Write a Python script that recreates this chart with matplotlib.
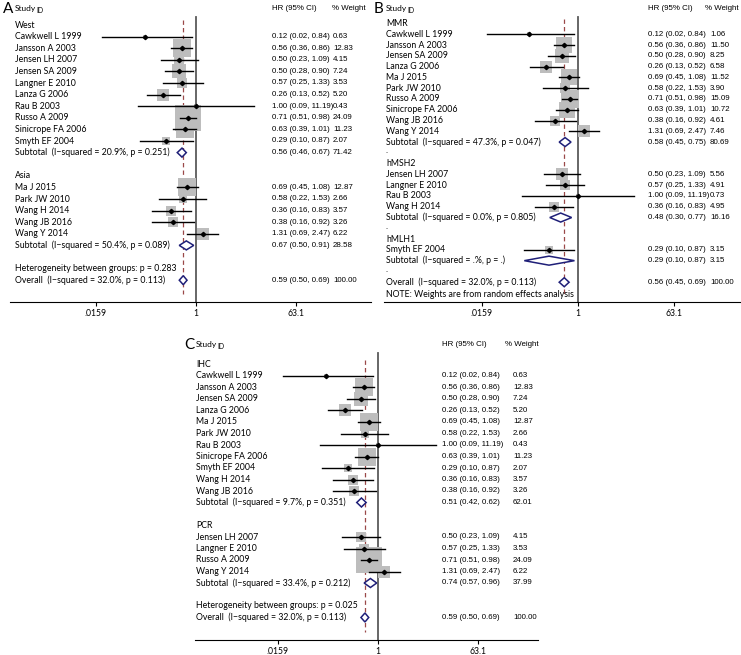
import numpy as np
import matplotlib
matplotlib.use("Agg")
import matplotlib.pyplot as plt
from matplotlib import font_manager
from matplotlib.patches import Polygon

plt.rcParams["font.family"] = ["Lato", "DejaVu Sans"]

W, H = 741, 655

# ---------------- data ----------------
study_names = ["Cawkwell L 1999", "Jansson A 2003", "Jensen LH 2007", "Jensen SA 2009",
               "Langner E 2010", "Lanza G 2006", "Rau B 2003", "Russo A 2009",
               "Sinicrope FA 2006", "Smyth EF 2004", "Ma J 2015", "Park JW 2010",
               "Wang H 2014", "Wang JB 2016", "Wang Y 2014"]
study_hr = [0.12, 0.56, 0.50, 0.50, 0.57, 0.26, 1.00, 0.71, 0.63, 0.29, 0.69, 0.58, 0.36, 0.38, 1.31]
study_lo = [0.02, 0.36, 0.23, 0.28, 0.25, 0.13, 0.09, 0.51, 0.39, 0.10, 0.45, 0.22, 0.16, 0.16, 0.69]
study_hi = [0.84, 0.86, 1.09, 0.90, 1.33, 0.52, 11.19, 0.98, 1.01, 0.87, 1.08, 1.53, 0.83, 0.92, 2.47]
weight_fixed = [0.63, 12.83, 4.15, 7.24, 3.53, 5.20, 0.43, 24.09, 11.23, 2.07, 12.87, 2.66, 3.57, 3.26, 6.22]
weight_random = [1.06, 11.50, 5.56, 8.25, 4.91, 6.58, 0.73, 15.09, 10.72, 3.15, 11.52, 3.90, 4.95, 4.61, 7.46]

# panel A: region
a_groups = ["West", "Asia"]
a_members = [["Cawkwell L 1999", "Jansson A 2003", "Jensen LH 2007", "Jensen SA 2009",
              "Langner E 2010", "Lanza G 2006", "Rau B 2003", "Russo A 2009",
              "Sinicrope FA 2006", "Smyth EF 2004"],
             ["Ma J 2015", "Park JW 2010", "Wang H 2014", "Wang JB 2016", "Wang Y 2014"]]
a_sub_hr = [0.56, 0.67]
a_sub_lo = [0.46, 0.50]
a_sub_hi = [0.67, 0.91]
a_sub_wt = [71.42, 28.58]
a_sub_i2 = [20.9, 50.4]
a_sub_p = [0.251, 0.089]
a_between_p = 0.283

# panel B: marker
b_groups = ["MMR", "hMSH2", "hMLH1"]
b_members = [["Cawkwell L 1999", "Jansson A 2003", "Jensen SA 2009", "Lanza G 2006",
              "Ma J 2015", "Park JW 2010", "Russo A 2009", "Sinicrope FA 2006",
              "Wang JB 2016", "Wang Y 2014"],
             ["Jensen LH 2007", "Langner E 2010", "Rau B 2003", "Wang H 2014"],
             ["Smyth EF 2004"]]
b_sub_hr = [0.58, 0.48, 0.29]
b_sub_lo = [0.45, 0.30, 0.10]
b_sub_hi = [0.75, 0.77, 0.87]
b_sub_wt = [80.69, 16.16, 3.15]
b_sub_i2 = [47.3, 0.0, None]
b_sub_p = [0.047, 0.805, None]

# panel C: method
c_groups = ["IHC", "PCR"]
c_members = [["Cawkwell L 1999", "Jansson A 2003", "Jensen SA 2009", "Lanza G 2006",
              "Ma J 2015", "Park JW 2010", "Rau B 2003", "Sinicrope FA 2006",
              "Smyth EF 2004", "Wang H 2014", "Wang JB 2016"],
             ["Jensen LH 2007", "Langner E 2010", "Russo A 2009", "Wang Y 2014"]]
c_sub_hr = [0.51, 0.74]
c_sub_lo = [0.42, 0.57]
c_sub_hi = [0.62, 0.96]
c_sub_wt = [62.01, 37.99]
c_sub_i2 = [9.7, 33.4]
c_sub_p = [0.351, 0.212]
c_between_p = 0.025

overall_hr = [0.59, 0.56, 0.59]
overall_lo = [0.50, 0.45, 0.50]
overall_hi = [0.69, 0.69, 0.69]
overall_i2 = 32.0
overall_p = 0.113

tick_vals = [0.0159, 1, 63.1]
tick_labels = [".0159", "1", "63.1"]

FS = 6.3
BOX = "#bdbdbd"
NAVY = "#1f1f78"
DASH = "#9a4848"

# narrow font for the number columns, if available
try:
    font_manager.findfont("Liberation Sans Narrow", fallback_to_default=False)
    NUM = dict(family=["Liberation Sans Narrow", "DejaVu Sans"], fontsize=6.6)
except ValueError:
    NUM = dict(family=["Liberation Sans", "DejaVu Sans"], fontsize=5.7)


def fmt_ci(hr, lo, hi):
    return f"{hr:.2f} ({lo:.2f}, {hi:.2f})"


def fmt_sub(i2, p):
    if i2 is None:
        return "Subtotal  (I\u2212squared = .%, p = .)"
    return f"Subtotal  (I\u2212squared = {i2:.1f}%, p = {p:.3f})"


def draw_panel(letter, box_px, one_px, ppu, y0, dy, axis_y, top, col_x, header_y,
               groups, members, weights, sub_hr, sub_lo, sub_hi, sub_wt, sub_i2, sub_p,
               ov, gap, between_p=None, note=None, k=5.2):
    x0, x1 = box_px
    ax = fig.add_axes([x0 / W, 1 - axis_y / H, (x1 - x0) / W, (axis_y - top) / H])
    ax.set_xlim((x0 - one_px) / ppu, (x1 - one_px) / ppu)
    ax.set_ylim((axis_y - y0) / dy, (top - y0) / dy)
    xd = lambda px: (px - one_px) / ppu
    yd = lambda px: (px - y0) / dy
    name_x, hr_x, wt_x, wth_x = [xd(v) for v in col_x]

    for s in ["top", "left", "right"]:
        ax.spines[s].set_visible(False)
    ax.spines["bottom"].set_linewidth(0.8)
    ax.set_yticks([])
    ax.set_xticks(np.log(tick_vals))
    ax.set_xticklabels(tick_labels, fontsize=6.2)
    ax.tick_params(axis="x", length=3, width=0.8, pad=2)
    ax.patch.set_alpha(0)

    # header
    hy = yd(header_y)
    ax.text(xd(col_x[0] - 12), hy, letter, fontsize=11, va="center", ha="left")
    ax.text(name_x, hy, "Study", fontsize=FS - 0.3, va="center")
    ax.text(name_x + 21 / ppu, hy + 1.2 / dy, "ID", fontsize=FS - 1.3, va="center")
    ax.text(hr_x, hy, "HR (95% CI)", va="center", **NUM)
    ax.text(wth_x, hy, "% Weight", va="center", **NUM)

    row = 0
    dh = 9 / dy / 2
    for g, grp in enumerate(groups):
        ax.text(name_x, row, grp, fontsize=FS, va="center")
        row += 1
        for nm in members[g]:
            i = study_names.index(nm)
            hr, lo, hi, w = study_hr[i], study_lo[i], study_hi[i], weights[i]
            side = k * np.sqrt(w) * 0.72
            ax.scatter([np.log(hr)], [row], s=side ** 2, marker="s", color=BOX,
                       linewidths=0, zorder=2)
            ax.plot([np.log(lo), np.log(hi)], [row, row], color="black", lw=1.0, zorder=3)
            ax.plot([np.log(hr)], [row], marker="D", ms=2.2, color="black", zorder=4)
            ax.text(name_x, row, nm, fontsize=FS, va="center")
            ax.text(hr_x, row, fmt_ci(hr, lo, hi), va="center", **NUM)
            ax.text(wt_x, row, f"{w:.2f}", va="center", **NUM)
            row += 1
        poly = Polygon([(np.log(sub_lo[g]), row), (np.log(sub_hr[g]), row - dh),
                        (np.log(sub_hi[g]), row), (np.log(sub_hr[g]), row + dh)],
                       closed=True, facecolor="white", edgecolor=NAVY, lw=1.1, zorder=5)
        ax.add_patch(poly)
        ax.text(name_x, row, fmt_sub(sub_i2[g], sub_p[g]), fontsize=FS, va="center")
        ax.text(hr_x, row, fmt_ci(sub_hr[g], sub_lo[g], sub_hi[g]), va="center", **NUM)
        ax.text(wt_x, row, f"{sub_wt[g]:.2f}", va="center", **NUM)
        row += 1
        ax.text(name_x, row - 0.2, gap, fontsize=FS, va="center")
        row += 1

    if between_p is not None:
        ax.text(name_x, row, f"Heterogeneity between groups: p = {between_p:.3f}",
                fontsize=FS, va="center")
        row += 1
    hr, lo, hi = ov
    poly = Polygon([(np.log(lo), row), (np.log(hr), row - dh),
                    (np.log(hi), row), (np.log(hr), row + dh)],
                   closed=True, facecolor="white", edgecolor=NAVY, lw=1.1, zorder=5)
    ax.add_patch(poly)
    ax.text(name_x, row, f"Overall  (I\u2212squared = {overall_i2:.1f}%, p = {overall_p:.3f})",
            fontsize=FS, va="center")
    ax.text(hr_x, row, fmt_ci(hr, lo, hi), va="center", **NUM)
    ax.text(wt_x, row, "100.00", va="center", **NUM)
    if note:
        ax.text(name_x, row + 1.1, note, fontsize=FS, va="center")

    ybot = yd(axis_y)
    ax.plot([0, 0], [yd(header_y + 8), ybot], color="#5a5a5a", lw=1.3, zorder=1)
    ax.plot([np.log(hr)] * 2, [-0.4, yd(axis_y - 8)], color=DASH, lw=0.9,
            ls=(0, (3.5, 2.5)), zorder=1)
    return ax


fig = plt.figure(figsize=(W / 100, H / 100), dpi=100)

draw_panel("A", (10, 371), 196, 100 / 4.14, 25, 11.6, 302, 0,
           (15, 271.7, 333, 331.5), 9,
           a_groups, a_members, weight_fixed, a_sub_hr, a_sub_lo, a_sub_hi, a_sub_wt,
           a_sub_i2, a_sub_p, (overall_hr[0], overall_lo[0], overall_hi[0]), "",
           between_p=a_between_p, k=5.2)

draw_panel("B", (384, 741), 577.7, 96 / 4.14, 23.5, 10.78, 302, 0,
           (386, 648, 710, 705), 9,
           b_groups, b_members, weight_random, b_sub_hr, b_sub_lo, b_sub_hi, b_sub_wt,
           b_sub_i2, b_sub_p, (overall_hr[1], overall_lo[1], overall_hi[1]), ".",
           note="NOTE: Weights are from random effects analysis", k=4.7)

draw_panel("C", (195, 538), 377.7, 100 / 4.14, 364.5, 11.5, 640, 330,
           (196, 441.7, 513, 505), 345,
           c_groups, c_members, weight_fixed, c_sub_hr, c_sub_lo, c_sub_hi, c_sub_wt,
           c_sub_i2, c_sub_p, (overall_hr[2], overall_lo[2], overall_hi[2]), "",
           between_p=c_between_p, k=5.2)

fig.savefig("out.png", dpi=100)
